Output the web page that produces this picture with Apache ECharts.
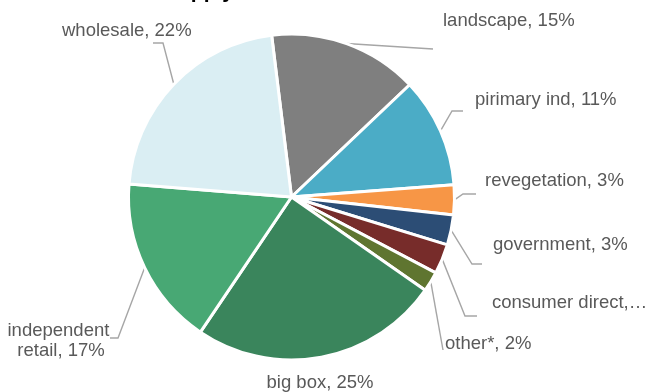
<!DOCTYPE html>
<html><head><meta charset="utf-8">
<script src="https://cdn.jsdelivr.net/npm/echarts@6/dist/echarts.min.js"></script>
<style>html,body{margin:0;padding:0;background:#fff}#c{width:649px;height:392px}</style>
</head><body><div id="c"></div>
<script>
const categories = ['landscape', 'pirimary ind', 'revegetation', 'government', 'consumer direct', 'other*', 'big box', 'independent retail', 'wholesale'];
const values = [15, 11, 3, 3, 3, 2, 25, 17, 22];
const colors = ['#7f7f7f', '#4bacc6', '#f79646', '#2c4d75', '#772c2a', '#5f7530', '#3a855c', '#48a874', '#daeef3'];
// label placement: [x, y, align, bendX, bendY, endX, endY]
const labelPlace = [
  [443, 21, 'left', null, null, 433, 49],
  [475, 100, 'left', 452, 111, 463, 111],
  [485, 181, 'left', 463, 194, 476, 194],
  [493, 245, 'left', 472, 264, 482, 264],
  [492, 303, 'left', 465, 316, 477, 316],
  [445, 344, 'left', null, null, 443, 350],
  [320, 383, 'center', null, null, null, null],
  [61, 341, 'center', 118, 338, 110, 338],
  [62, 31, 'left', 163, 43, 153, 43]
];
const FONT = '"Liberation Sans", Arial, sans-serif';
const data = categories.map((name, i) => {
  const item = { name: name, value: values[i], itemStyle: { color: colors[i] } };
  if (name === 'consumer direct') item.label = { width: 159, overflow: 'truncate', ellipsis: '…' };
  if (name === 'independent retail') item.label = { width: 108, overflow: 'break', lineHeight: 20 };
  if (name === 'big box') item.labelLine = { show: false };
  return item;
});
const chart = echarts.init(document.getElementById('c'), null, { renderer: 'canvas' });
chart.setOption({
  animation: false,
  backgroundColor: '#ffffff',
  title: {
    text: 'Supply', left: 159, top: -23,
    textStyle: { fontSize: 21, fontWeight: 'bold', color: '#000000', fontFamily: FONT }
  },
  series: [{
    type: 'pie',
    center: [291.5, 197],
    radius: 163,
    startAngle: 97,
    clockwise: true,
    avoidLabelOverlap: false,
    selectedMode: false,
    itemStyle: { borderColor: '#ffffff', borderWidth: 3 },
    emphasis: { disabled: true },
    label: {
      show: true,
      position: 'outside',
      formatter: '{b}, {c}%',
      color: '#595959',
      fontSize: 18.5,
      fontFamily: FONT
    },
    labelLine: {
      show: true, length: 10, length2: 10,
      lineStyle: { color: '#a6a6a6', width: 1.4 }
    },
    labelLayout: function (p) {
      const c = labelPlace[p.dataIndex];
      const res = { x: c[0], y: c[1], align: c[2], verticalAlign: 'middle', hideOverlap: false };
      const start = p.labelLinePoints ? p.labelLinePoints[0] : null;
      if (start && c[5] != null) {
        const bend = c[3] != null ? [c[3], c[4]] : [(start[0] + c[5]) / 2, (start[1] + c[6]) / 2];
        res.labelLinePoints = [start, bend, [c[5], c[6]]];
      }
      return res;
    },
    data: data
  }]
});
</script>
</body></html>
